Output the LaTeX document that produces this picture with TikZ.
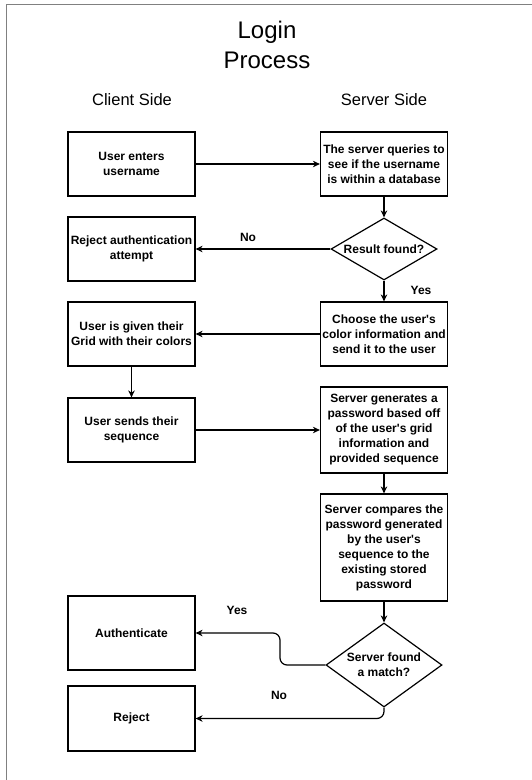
\documentclass[tikz,border=0pt]{standalone}
\usepackage{fontspec}
\setmainfont{Liberation Sans}
\usetikzlibrary{shapes.geometric,arrows.meta}
\newcommand{\sq}{\textquotesingle}
\begin{document}
\begin{tikzpicture}[x=1pt,y=-1pt,
  box/.style={draw,line width=1.2pt,minimum width=127pt,inner sep=1pt,align=center,
    font=\fontsize{12}{15}\selectfont\bfseries},
  dec/.style={draw,diamond,line width=1.2pt,inner sep=0pt,align=center,
    font=\fontsize{12}{15}\selectfont\bfseries},
  lbl/.style={font=\fontsize{12}{15}\selectfont\bfseries},
  head/.style={font=\fontsize{16.5}{20}\selectfont},
  arr/.style={line width=1.2pt,-{Stealth[length=7pt,width=6.5pt]}},
  frame/.style={draw=gray,line width=1pt}]
\useasboundingbox (0,0) rectangle (532,780);
\coordinate (ftr) at (532,4);
\coordinate (ftl) at (6,4);
\coordinate (fbl) at (6,780);
\draw[frame] (ftr) -- (ftl) -- (fbl);

\node[align=center,font=\fontsize{24}{30}\selectfont] (title) at (267,45) {Login\\Process};
\node[head] (client) at (132,100) {Client Side};
\node[head] (server) at (384,100) {Server Side};

\node[box,minimum height=64pt] (b1) at (131.5,164) {User enters\\username};
\node[box,minimum height=64pt] (s1) at (384,164) {The server queries to\\see if the username\\is within a database};
\node[dec,minimum width=106pt,minimum height=62pt,aspect=1.7] (d1) at (384,249) {Result found?};
\node[box,minimum height=64pt] (b2) at (131.5,249) {Reject authentication\\attempt};
\node[box,minimum height=64pt] (s2) at (384,334) {Choose the user\sq s\\color information and\\send it to the user};
\node[box,minimum height=64pt] (b3) at (131.5,334) {User is given their\\Grid with their colors};
\node[box,minimum height=64pt] (b4) at (131.5,430) {User sends their\\sequence};
\node[box,minimum height=86pt] (s3) at (384,430) {Server generates a\\password based off\\of the user\sq s grid\\information and\\provided sequence};
\node[box,minimum height=107pt] (s4) at (384,547.5) {Server compares the\\password generated\\by the user\sq s\\sequence to the\\existing stored\\password};
\node[dec,minimum width=116pt,minimum height=84pt,aspect=1.38] (d2) at (384,665) {Server found\\a match?};
\node[box,minimum height=74pt] (b5) at (131.5,633) {Authenticate};
\node[box,minimum height=65pt] (b6) at (131.5,718.5) {Reject};

\draw[arr] (b1) -- (s1);
\draw[arr] (s1) -- (d1);
\draw[arr] (d1) -- (b2);
\node[lbl] (no1) at (248,237) {No};
\draw[arr] (d1) -- (s2);
\node[lbl] (yes1) at (421,290) {Yes};
\draw[arr] (s2) -- (b3);
\draw[arr] (b3) -- (b4);
\draw[arr] (b4) -- (s3.west |- b4);
\draw[arr] (s3) -- (s4);
\draw[arr] (s4) -- (d2);
\draw[arr,rounded corners=7pt] (d2.west) -- (280,665) -- (280,633) -- (b5.east);
\node[lbl] (yes2) at (237,610) {Yes};
\draw[arr,rounded corners=7pt] (d2.south) |- (b6.east);
\node[lbl] (no2) at (279,695) {No};
\end{tikzpicture}
\end{document}
